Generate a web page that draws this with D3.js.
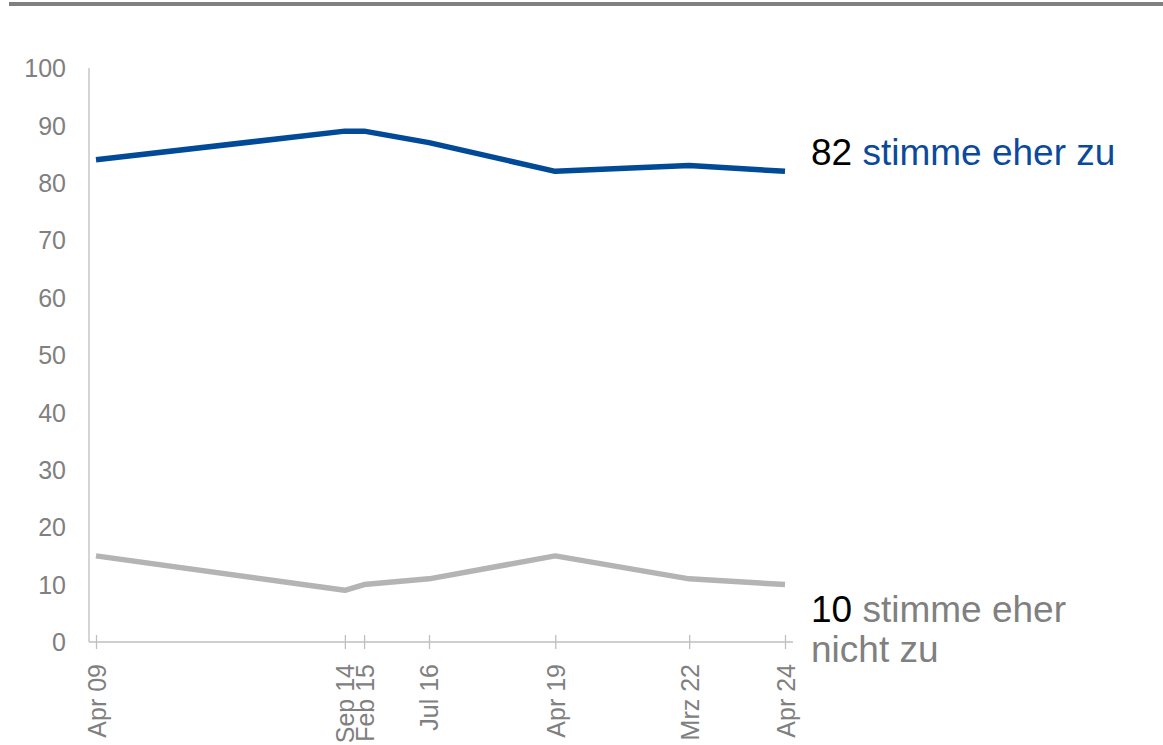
<!DOCTYPE html>
<html>
<head>
<meta charset="utf-8">
<script src="https://cdn.jsdelivr.net/npm/d3@7"></script>
<style>
  html, body { margin: 0; padding: 0; background: #fff; }
  svg { display: block; font-family: "Liberation Sans", Arial, sans-serif; }
</style>
</head>
<body>
<svg id="chart" width="1163" height="745"></svg>
<script>
// Survey waves (month/year) and their labels
const waveDates = ["2009-04", "2014-09", "2015-02", "2016-07", "2019-04", "2022-03", "2024-04"];
const waveLabels = ["Apr 09", "Sep 14", "Feb 15", "Jul 16", "Apr 19", "Mrz 22", "Apr 24"];

// Share of respondents (%)
const agreeValues = [84, 89, 89, 87, 82, 83, 82];
const disagreeValues = [15, 9, 10, 11, 15, 11, 10];

const yTicks = [0, 10, 20, 30, 40, 50, 60, 70, 80, 90, 100];

const parse = d3.timeParse("%Y-%m");
const dates = waveDates.map(parse);

const svg = d3.select("#chart");

// Top rule
svg.append("rect")
  .attr("x", 9).attr("y", 2).attr("width", 1154).attr("height", 4)
  .attr("fill", "#808080");

const x = d3.scaleTime()
  .domain([dates[0], dates[dates.length - 1]])
  .range([96, 785]);

const y = d3.scaleLinear()
  .domain([0, 100])
  .range([642, 68]);

const axisColor = "#BFBFBF";
const textGray = "#808080";

// Y axis
const yAxis = svg.append("g")
  .attr("transform", "translate(89,0)")
  .call(d3.axisLeft(y).tickValues(yTicks).tickSize(0).tickPadding(23));
yAxis.select(".domain").attr("stroke", axisColor).attr("stroke-width", 1.3)
  .attr("d", `M0,${y(100)}V${y(0)}`);
yAxis.selectAll("text")
  .attr("fill", textGray)
  .style("font-size", "25px")
  .attr("dy", "0.35em");

// X axis
const xAxis = svg.append("g")
  .attr("transform", `translate(0,${y(0)})`)
  .call(d3.axisBottom(x).tickValues(dates).tickSize(0)
    .tickFormat((d, i) => waveLabels[i]));
xAxis.select(".domain").attr("stroke", axisColor).attr("stroke-width", 1.3)
  .attr("d", `M89,0H793`);
xAxis.selectAll(".tick line")
  .attr("stroke", axisColor).attr("stroke-width", 1.3)
  .attr("y1", -7).attr("y2", 7);
xAxis.selectAll(".tick text")
  .attr("fill", textGray)
  .style("font-size", "25px")
  .attr("transform", "rotate(-90)")
  .attr("text-anchor", "end")
  .attr("x", -22)
  .attr("y", 0)
  .attr("dy", "0.36em");

// Lines
const line = d3.line()
  .x((d, i) => x(dates[i]))
  .y(d => y(d));

svg.append("path")
  .datum(disagreeValues)
  .attr("fill", "none")
  .attr("stroke", "#B4B4B4")
  .attr("stroke-width", 5.5)
  .attr("stroke-linejoin", "round")
  .attr("d", line);

svg.append("path")
  .datum(agreeValues)
  .attr("fill", "none")
  .attr("stroke", "#004A98")
  .attr("stroke-width", 5.5)
  .attr("stroke-linejoin", "round")
  .attr("d", line);

// End labels
const last = agreeValues.length - 1;
const lblX = 811;

const agreeLbl = svg.append("text")
  .attr("x", lblX)
  .attr("y", y(agreeValues[last]) - 6)
  .style("font-size", "37px");
agreeLbl.append("tspan").attr("fill", "#000").text(agreeValues[last] + " ");
agreeLbl.append("tspan").attr("fill", "#0B4A9A").text("stimme eher zu");

const disLbl = svg.append("text")
  .attr("x", lblX)
  .attr("y", y(disagreeValues[last]) + 37)
  .style("font-size", "37px");
disLbl.append("tspan").attr("fill", "#000").text(disagreeValues[last] + " ");
disLbl.append("tspan").attr("fill", textGray).text("stimme eher");
svg.append("text")
  .attr("x", lblX)
  .attr("y", y(disagreeValues[last]) + 77)
  .style("font-size", "37px")
  .attr("fill", textGray)
  .text("nicht zu");
</script>
</body>
</html>
